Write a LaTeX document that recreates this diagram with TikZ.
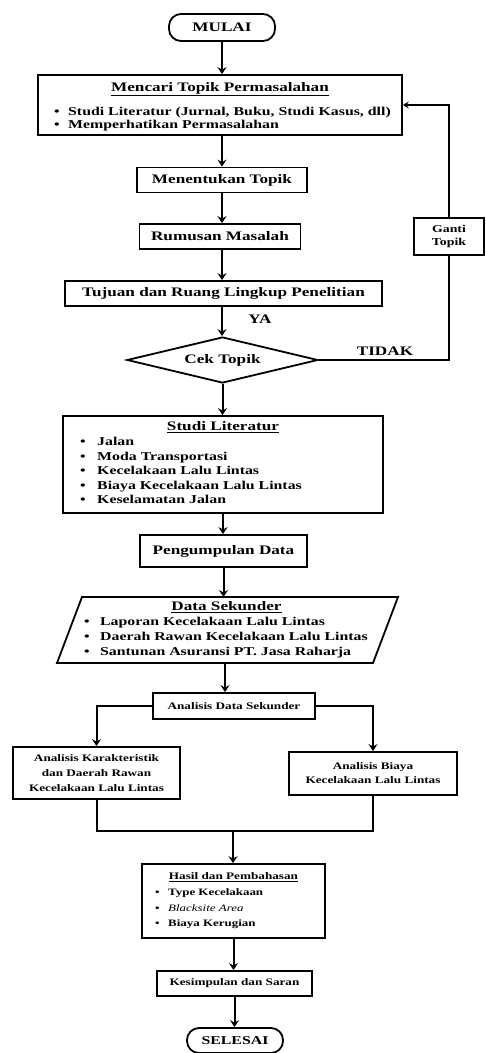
\documentclass[tikz,border=0pt]{standalone}
\usepackage{fontspec}
\setmainfont[FakeStretch=1.32]{Liberation Serif}
\usetikzlibrary{arrows.meta,shapes.geometric}
\newcommand\itb[1]{\makebox[#1][l]{\textbullet}}
\begin{document}
\begin{tikzpicture}[x=1pt,y=-1pt,
  box/.style={draw, line width=1.8pt, inner sep=0pt, align=center},
  term/.style={draw, line width=1.8pt, rounded corners=12pt, inner sep=0pt, font=\bfseries\fontsize{13}{14}\selectfont},
  ttl/.style={font=\bfseries\fontsize{13}{14}\selectfont},
  sml/.style={font=\bfseries\fontsize{10}{15}\selectfont},
  itm/.style={anchor=west, inner sep=0pt, text height=8.5pt, text depth=2.5pt, font=\bfseries\fontsize{12}{13}\selectfont},
  itms/.style={anchor=west, inner sep=0pt, text height=7pt, text depth=2pt, font=\bfseries\fontsize{9.8}{11}\selectfont},
  arr/.style={line width=2pt, -{Stealth[length=7pt,width=9pt,inset=2.5pt]}},
  loopline/.style={line width=1.5pt}
]
\useasboundingbox (0,0) rectangle (485,1053);

% terminals and boxes
\node[term, minimum width=106pt, minimum height=27pt] (mulai) at (222,27.5) {MULAI};

\node[box, minimum width=364pt, minimum height=60pt] (mencari) at (220,105) {};
\node[ttl, inner sep=0pt] (mencari-t) at (220,89) {\underline{Mencari Topik Permasalahan}};
\node[itm] (mencari-1) at (54,112) {\itb{14pt}Studi Literatur (Jurnal, Buku, Studi Kasus, dll)};
\node[itm] (mencari-2) at (54,125) {\itb{14pt}Memperhatikan Permasalahan};

\node[box, ttl, minimum width=170pt, minimum height=25pt] (topik) at (222,180) {Menentukan Topik};
\node[box, ttl, minimum width=161pt, minimum height=25pt] (rumusan) at (220,236.5) {Rumusan Masalah};
\node[box, ttl, minimum width=317pt, minimum height=25pt] (tujuan) at (223.5,293.5) {Tujuan dan Ruang Lingkup Penelitian};

\node[draw, line width=1.8pt, diamond, aspect=4, inner sep=0pt, minimum width=191pt, minimum height=46pt, ttl] (cek) at (222.5,360) {Cek Topik};
\node[ttl] (ya) at (260,319) {YA};
\node[ttl] (tidak) at (385,351) {TIDAK};

\node[box, minimum width=70pt, minimum height=37pt, font=\bfseries\fontsize{10.5}{13}\selectfont] (ganti) at (449,236.5) {Ganti\\Topik};

\node[box, minimum width=320pt, minimum height=97pt] (studi) at (223,464.5) {};
\node[ttl, inner sep=0pt] (studi-t) at (223,427) {\underline{Studi Literatur}};
\node[itm] (studi-1) at (80,442) {\itb{17pt}Jalan};
\node[itm] (studi-2) at (80,457) {\itb{17pt}Moda Transportasi};
\node[itm] (studi-3) at (80,471.5) {\itb{17pt}Kecelakaan Lalu Lintas};
\node[itm] (studi-4) at (80,486) {\itb{17pt}Biaya Kecelakaan Lalu Lintas};
\node[itm] (studi-5) at (80,500.5) {\itb{17pt}Keselamatan Jalan};

\node[box, ttl, minimum width=167pt, minimum height=32pt] (kumpul) at (223.5,551) {Pengumpulan Data};

% data sekunder (parallelogram)
\draw[line width=1.8pt] (57,663) -- (82,597) -- (398,597) -- (373,663) -- cycle;
\coordinate (ds-n) at (225,597);
\coordinate (ds-s) at (225,663);
\node[ttl, inner sep=0pt] (ds-t) at (226.5,607.5) {\underline{Data Sekunder}};
\node[itm] (ds-1) at (84,622.5) {\itb{16pt}Laporan Kecelakaan Lalu Lintas};
\node[itm] (ds-2) at (84,637.5) {\itb{16pt}Daerah Rawan Kecelakaan Lalu Lintas};
\node[itm] (ds-3) at (84,652) {\itb{16pt}Santunan Asuransi PT. Jasa Raharja};

\node[box, sml, minimum width=162pt, minimum height=26pt] (ads) at (234,706) {Analisis Data Sekunder};
\node[box, sml, minimum width=167pt, minimum height=52pt] (kar) at (96.5,773) {Analisis Karakteristik\\dan Daerah Rawan\\Kecelakaan Lalu Lintas};
\node[box, sml, minimum width=168pt, minimum height=43pt, font=\bfseries\fontsize{10}{14}\selectfont] (biaya) at (373,773.5) {Analisis Biaya\\Kecelakaan Lalu Lintas};
\coordinate (jm) at (233,831);

\node[box, minimum width=183pt, minimum height=74pt] (hasil) at (233.5,901) {};
\node[sml, inner sep=0pt] (hasil-t) at (233.5,877.5) {\underline{Hasil dan Pembahasan}};
\node[itms] (hasil-1) at (155,893) {\itb{13pt}Type Kecelakaan};
\node[itms] (hasil-2) at (155,908.5) {\itb{13pt}{\mdseries\itshape Blacksite Area}};
\node[itms] (hasil-3) at (155,923.5) {\itb{13pt}Biaya Kerugian};

\node[box, sml, minimum width=155pt, minimum height=25pt] (simpul) at (234.5,983.5) {Kesimpulan dan Saran};
\node[term, minimum width=96pt, minimum height=25pt, font=\bfseries\fontsize{12}{13}\selectfont] (selesai) at (235,1040.5) {SELESAI};

% connectors
\draw[arr] (mulai.south) -- (mulai.south |- mencari.north);
\draw[arr] (topik.north |- mencari.south) -- (topik.north);
\draw[arr] (topik.south) -- (topik.south |- rumusan.north);
\draw[arr] (topik.south |- rumusan.south) -- (topik.south |- tujuan.north);
\draw[arr] (topik.south |- tujuan.south) -- (topik.south |- cek.north);
\draw[arr] (cek.south) -- (cek.south |- studi.north);
\draw[arr] (studi.south) -- (studi.south |- kumpul.north);
\draw[arr] (kumpul.south) -- (kumpul.south |- ds-n);
\draw[arr] (ds-s) -- (ds-s |- ads.north);
\draw[arr] (ads.west) -| (kar.north);
\draw[arr] (ads.east) -| (biaya.north);
\draw[line width=2pt] (kar.south) |- (jm) -| (biaya.south);
\draw[arr] (jm) -- (jm |- hasil.north);
\draw[arr] (hasil.south) -- (hasil.south |- simpul.north);
\draw[arr] (simpul.south) -- (simpul.south |- selesai.north);

% loop back
\draw[loopline] (cek.east) -| (ganti.south);
\draw[loopline, -{Stealth[length=6pt,width=7pt,inset=2.5pt]}] (ganti.north) |- (mencari.east);
\end{tikzpicture}
\end{document}
